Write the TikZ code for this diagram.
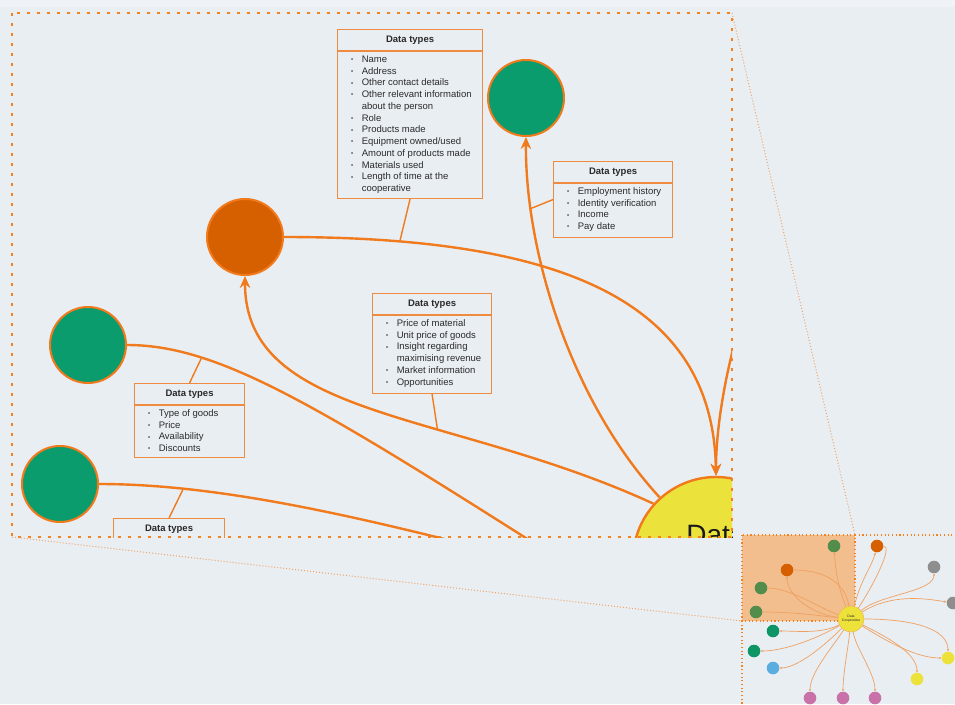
\documentclass[tikz,border=0pt]{standalone}
\usepackage{fontspec}
\setmainfont{Liberation Sans}
\usetikzlibrary{arrows.meta,calc}

% palette
\definecolor{bgc}{HTML}{E9EEF3}
\definecolor{bgtop}{HTML}{EFF2F6}
\definecolor{edgeor}{HTML}{F07A1C}
\definecolor{boxor}{HTML}{EE8B40}
\definecolor{dotor}{HTML}{F5821F}
\definecolor{thinor}{HTML}{F2A466}
\definecolor{leafgreen}{HTML}{0A9C6C}
\definecolor{huborange}{HTML}{D65F00}
\definecolor{coopyellow}{HTML}{ECE23C}
\definecolor{inktext}{HTML}{2A2A2A}
\definecolor{mapfill}{HTML}{F2BE8D}
\definecolor{mapgreen}{HTML}{528D4B}
\definecolor{mapteal}{HTML}{0E9566}
\definecolor{mapgray}{HTML}{8E8E8E}
\definecolor{mapblue}{HTML}{5BADE0}
\definecolor{mappink}{HTML}{C872A8}
\definecolor{mapyellow}{HTML}{EDE23A}
\definecolor{mapline}{HTML}{F0A060}

\tikzset{
  dtbox/.style={draw=boxor, fill=bgc, line width=1.1pt, rectangle, inner sep=0pt, anchor=north west},
  dtrule/.style={draw=boxor, line width=1.1pt},
  dthead/.style={font=\fontsize{9.5}{11}\selectfont\bfseries, text=inktext, inner sep=0pt},
  dtlist/.style={font=\fontsize{9.5}{11.75}\selectfont, text=inktext, inner sep=0pt, anchor=north west, align=left},
  bigleaf/.style={circle, draw=edgeor, line width=2pt, minimum size=76pt, inner sep=0pt},
  flow/.style={draw=edgeor, line width=2.4pt},
  flowarrow/.style={flow, -{Stealth[length=12pt,width=10.5pt]}},
  tagline/.style={draw=edgeor, line width=1.4pt},
  paneldots/.style={draw=dotor, line width=2.6pt, dash pattern=on 2.6pt off 7.4pt},
  zoomrays/.style={draw=thinor, line width=1pt, dash pattern=on 1pt off 2pt},
  mapdots/.style={draw=dotor, line width=1.1pt, dash pattern=on 1.1pt off 2.6pt},
  mapleaf/.style={circle, minimum size=12.6pt, inner sep=0pt},
  mapedge/.style={draw=mapline, line width=0.7pt, -{Stealth[length=2.6pt,width=2.2pt]}},
  mapflow/.style={draw=mapline, line width=0.7pt},
}

\newcommand{\itembullet}{\raisebox{0.9pt}{\fontsize{6}{6}\selectfont\textbullet}}
\newcommand{\typelist}[1]{\begin{tabular}{@{}l@{\hspace{8.5pt}}l@{}}#1\end{tabular}}
\newcommand{\typebox}[6]{%
  \node[dtbox, minimum width=#4pt, minimum height=#5pt] (#1) at (#2,#3) {};
  \node[dthead] (#1-head) at ($(#1.north)+(0,11)$) {Data types};
  \draw[dtrule] ($(#1.north west)+(0,22)$) -- ($(#1.north east)+(0,22)$);
  \node[dtlist] (#1-list) at ($(#1.north west)+(14,25)$) {\typelist{#6}};
}

\begin{document}
\begin{tikzpicture}[x=1pt, y=-1pt]
\useasboundingbox (0,0) rectangle (955,704);
\fill[bgc] (0,0) rectangle (955,704);
\fill[bgtop] (0,0) rectangle (955,7);

% ---------- overview map (bottom right) ----------
\begin{scope}
  \clip (0,0) rectangle (955,704);
  \fill[mapfill] (742,535) rectangle (855,621);
  \draw[mapdots] (742,535) rectangle (855,621);
  \draw[mapdots] (855,535) -- (955,535);
  \draw[mapdots] (742,621) -- (742,704);

  \node[mapleaf, minimum size=26pt, fill=mapyellow, draw=mapline!70!mapyellow, line width=0.5pt,
        font=\fontsize{3.4}{4}\selectfont, text=inktext, align=center] (mc) at (851,619) {Data\\Cooperative};
  \node[mapleaf, fill=mapgreen]   (mg1) at (834,546) {};
  \node[mapleaf, fill=huborange]  (mo1) at (787,570) {};
  \node[mapleaf, fill=mapgreen]   (mg2) at (761,588) {};
  \node[mapleaf, fill=mapgreen]   (mg3) at (756,612) {};
  \node[mapleaf, fill=huborange]  (mo2) at (877,546) {};
  \node[mapleaf, fill=mapgray]    (my1g) at (934,567) {};
  \node[mapleaf, fill=mapgray]    (my2g) at (953,603) {};
  \node[mapleaf, fill=mapteal]    (mt1) at (773,631) {};
  \node[mapleaf, fill=mapteal]    (mt2) at (754,651) {};
  \node[mapleaf, fill=mapblue]    (mb)  at (773,668) {};
  \node[mapleaf, fill=mapyellow]  (my1) at (948,658) {};
  \node[mapleaf, fill=mapyellow]  (my2) at (917,679) {};
  \node[mapleaf, fill=mappink]    (mp1) at (810,698) {};
  \node[mapleaf, fill=mappink]    (mp2) at (843,698) {};
  \node[mapleaf, fill=mappink]    (mp3) at (875,698) {};

  \draw[mapedge] (mc) .. controls +(-12,-30) and +(2,30) .. (mg1);
  \draw[mapedge] (mo1) .. controls +(45,0) and +(-5,-30) .. (mc);
  \draw[mapedge] (mc) .. controls +(-40,-5) and +(0,25) .. (mo1);
  \draw[mapflow] (mg2) .. controls +(30,0) and +(-30,-10) .. (mc);
  \draw[mapflow] (mg3) .. controls +(40,0) and +(-30,-3) .. (mc);
  \draw[mapedge] (mc) .. controls +(10,-40) and +(-5,20) .. (mo2);
  \draw[mapflow] (mo2) .. controls +(17,0) and +(20,-30) .. (mc);
  \draw[mapedge] (mc) .. controls +(30,-25) and +(0,25) .. (my1g);
  \draw[mapedge] (mc) .. controls +(40,-25) and +(-30,-5) .. (my2g);
  \draw[mapedge] (mc) .. controls +(60,0) and +(0,-30) .. (my1);
  \draw[mapedge] (mc) .. controls +(40,25) and +(-30,0) .. (my1);
  \draw[mapedge] (mc) .. controls +(40,20) and +(0,-25) .. (my2);
  \draw[mapedge] (mc) .. controls +(-30,15) and +(25,0) .. (mt1);
  \draw[mapedge] (mc) .. controls +(-35,20) and +(30,0) .. (mt2);
  \draw[mapedge] (mc) .. controls +(-25,25) and +(25,0) .. (mb);
  \draw[mapedge] (mc) .. controls +(-20,30) and +(0,-25) .. (mp1);
  \draw[mapedge] (mc) .. controls +(-3,30) and +(0,-25) .. (mp2);
  \draw[mapedge] (mc) .. controls +(5,30) and +(0,-25) .. (mp3);
\end{scope}

% ---------- magnified panel ----------
\begin{scope}
  \clip (12,13) rectangle (732,537);

  \node[bigleaf, fill=leafgreen]  (gTop)  at (526,98)  {};
  \node[bigleaf, fill=huborange]  (oNode) at (245,237) {};
  \node[bigleaf, fill=leafgreen]  (gLeft) at (88,345)  {};
  \node[bigleaf, fill=leafgreen]  (gLow)  at (60,484)  {};
  \node[circle, fill=coopyellow, draw=edgeor, line width=2.4pt, minimum size=166pt, inner sep=0pt]
        (coop) at (716,560) {};
  \node[font=\fontsize{28}{32}\selectfont, text=black!90, anchor=base, inner sep=0pt] (coopA) at (716,544) {Data};
  \node[font=\fontsize{28}{32}\selectfont, text=black!90, anchor=base, inner sep=0pt] (coopB) at (716,576) {Cooperative};
  \coordinate (offHub) at (872,80);

  \draw[flowarrow] (oNode.east) .. controls (560,237) and (713,300) .. (coop.north)
        coordinate[pos=0.15] (tag1);
  \draw[flowarrow] (offHub) .. controls (760,200) and (716,380) .. (coop.north);
  \draw[flowarrow] (coop.132) .. controls (570,400) and (525,250) .. (gTop.south)
        coordinate[pos=0.8] (tag2);
  \draw[flowarrow] (coop.138) .. controls (450,410) and (245,420) .. (oNode.south)
        coordinate[pos=0.37] (tag3);
  \draw[flow] (gLeft.east) .. controls (230,345) and (340,420) .. (coop.230)
        coordinate[pos=0.23] (tag4);
  \draw[flow] (gLow.east) .. controls (250,484) and (430,535) .. (coop.200)
        coordinate[pos=0.18] (tag5);

  \typebox{dt1}{337}{29}{145}{169}{%
    \itembullet & Name\\
    \itembullet & Address\\
    \itembullet & Other contact details\\
    \itembullet & Other relevant information\\
                & about the person\\
    \itembullet & Role\\
    \itembullet & Products made\\
    \itembullet & Equipment owned/used\\
    \itembullet & Amount of products made\\
    \itembullet & Materials used\\
    \itembullet & Length of time at the\\
                & cooperative}
  \typebox{dt2}{553}{161}{119}{76}{%
    \itembullet & Employment history\\
    \itembullet & Identity verification\\
    \itembullet & Income\\
    \itembullet & Pay date}
  \typebox{dt3}{372}{293}{119}{100}{%
    \itembullet & Price of material\\
    \itembullet & Unit price of goods\\
    \itembullet & Insight regarding\\
                & maximising revenue\\
    \itembullet & Market information\\
    \itembullet & Opportunities}
  \typebox{dt4}{134}{383}{110}{74}{%
    \itembullet & Type of goods\\
    \itembullet & Price\\
    \itembullet & Availability\\
    \itembullet & Discounts}
  \node[dtbox, minimum width=111pt, minimum height=60pt] (dt5) at (113,518) {};
  \node[dthead] (dt5-head) at ($(dt5.north)+(0,11)$) {Data types};

  \draw[tagline] (dt1.south) -- (tag1);
  \draw[tagline] (dt2.west) -- (tag2);
  \draw[tagline] (dt3.south) -- (tag3);
  \draw[tagline] (dt4.north) -- (tag4);
  \draw[tagline] (dt5.north) -- (tag5);
\end{scope}

% panel frame and the rays to the overview
\coordinate (panelNW) at (12,13);
\coordinate (panelNE) at (732,13);
\coordinate (panelSW) at (12,537);
\coordinate (panelSE) at (732,537);
\coordinate (mapNE) at (855,535);
\coordinate (mapSW) at (742,621);
\draw[paneldots] (panelNW) rectangle (panelSE);
\draw[zoomrays] (panelNE) -- (mapNE);
\draw[zoomrays] (panelSW) -- (mapSW);
\end{tikzpicture}
\end{document}
